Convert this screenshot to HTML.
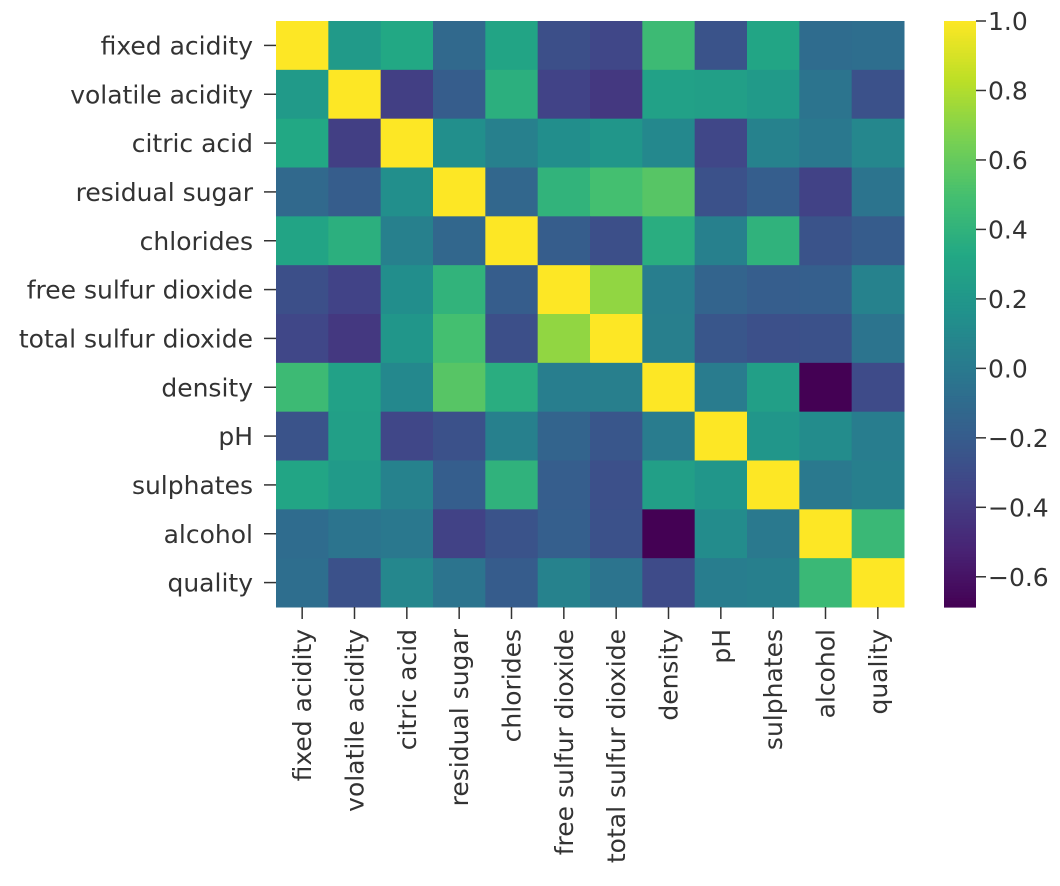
<!DOCTYPE html>
<html><head><meta charset="utf-8"><style>
html,body{margin:0;padding:0;background:#fff;}
svg text{font-family:"DejaVu Sans","Liberation Sans",sans-serif;font-size:25px;fill:#333;}
</style></head><body>
<svg id="chart" width="1060" height="881" xmlns="http://www.w3.org/2000/svg"></svg>
<script>
const labels = ["fixed acidity","volatile acidity","citric acid","residual sugar","chlorides","free sulfur dioxide","total sulfur dioxide","density","pH","sulphates","alcohol","quality"];
const row0 = [1,0.219,0.324,-0.112,0.298,-0.283,-0.329,0.459,-0.253,0.300,-0.095,-0.077];
const row1 = [0.219,1,-0.378,-0.196,0.377,-0.353,-0.414,0.271,0.261,0.226,-0.038,-0.266];
const row2 = [0.324,-0.378,1,0.142,0.039,0.133,0.195,0.096,-0.330,0.056,-0.010,0.086];
const row3 = [-0.112,-0.196,0.142,1,-0.129,0.403,0.495,0.553,-0.267,-0.186,-0.359,-0.037];
const row4 = [0.298,0.377,0.039,-0.129,1,-0.195,-0.280,0.363,0.045,0.396,-0.257,-0.201];
const row5 = [-0.283,-0.353,0.133,0.403,-0.195,1,0.721,0.026,-0.146,-0.188,-0.180,0.055];
const row6 = [-0.329,-0.414,0.195,0.495,-0.280,0.721,1,0.032,-0.238,-0.276,-0.266,-0.041];
const row7 = [0.459,0.271,0.096,0.553,0.363,0.026,0.032,1,0.012,0.259,-0.687,-0.306];
const row8 = [-0.253,0.261,-0.330,-0.267,0.045,-0.146,-0.238,0.012,1,0.192,0.121,0.020];
const row9 = [0.300,0.226,0.056,-0.186,0.396,-0.188,-0.276,0.259,0.192,1,-0.003,0.038];
const row10 = [-0.095,-0.038,-0.010,-0.359,-0.257,-0.180,-0.266,-0.687,0.121,-0.003,1,0.444];
const row11 = [-0.077,-0.266,0.086,-0.037,-0.201,0.055,-0.041,-0.306,0.020,0.038,0.444,1];
const matrix = [row0,row1,row2,row3,row4,row5,row6,row7,row8,row9,row10,row11];
const cbTicks = [1.0,0.8,0.6,0.4,0.2,0.0,-0.2,-0.4,-0.6];
const cbTickLabels = ["1.0","0.8","0.6","0.4","0.2","0.0","\u22120.2","\u22120.4","\u22120.6"];
const vmin = -0.687, vmax = 1;

const NS="http://www.w3.org/2000/svg";
const svg=document.getElementById('chart');
const X0=276,X1=904,Y0=21,Y1=607;
const n=labels.length, cw=(X1-X0)/n, ch=(Y1-Y0)/n;
const stops=["#440154","#482475","#414487","#355f8d","#2a788e","#21918c","#22a884","#44bf70","#7ad151","#bddf26","#fde725"];
function hex(h){return [1,3,5].map(i=>parseInt(h.substr(i,2),16));}
function viridis(t){t=Math.max(0,Math.min(1,t));const p=t*10,i=Math.min(9,Math.floor(p)),f=p-i;const a=hex(stops[i]),b=hex(stops[i+1]);return "rgb("+a.map((v,k)=>Math.round(v+(b[k]-v)*f)).join(",")+")";}
function colorOf(v){return viridis((v-vmin)/(vmax-vmin));}
function el(tag,attrs){const e=document.createElementNS(NS,tag);for(const k in attrs)e.setAttribute(k,attrs[k]);svg.appendChild(e);return e;}
function xPos(j){return X0+j*cw;}
function yPos(i){return Y0+i*ch;}
function cbY(v){return Y0+(vmax-v)/(vmax-vmin)*(Y1-Y0);}

matrix.forEach((row,i)=>row.forEach((v,j)=>{
  const r=el('rect',{x:xPos(j),y:yPos(i),width:cw+0.5,height:ch+0.5,fill:colorOf(v)});
  
  
}));
labels.forEach((lab,i)=>{
  const yc=yPos(i)+ch/2;
  const tk=el('line',{x1:X0-12,x2:X0,y1:yc,y2:yc,stroke:'#333','stroke-width':1.5});
  
  
  const t=el('text',{x:X0-23,y:yc+9,'text-anchor':'end'});
  t.textContent=lab;
  
  
  const xc=xPos(i)+cw/2;
  const tk2=el('line',{x1:xc,x2:xc,y1:Y1,y2:Y1+12,stroke:'#333','stroke-width':1.5});
  
  
  const t2=el('text',{x:0,y:0,'text-anchor':'end',transform:`translate(${xc+9},${Y1+22}) rotate(-90)`});
  t2.textContent=lab;
  
  
});
const CX0=944,CX1=976,N=200;
for(let k=0;k<N;k++){
  const v0=vmax-(vmax-vmin)*k/N, v1=vmax-(vmax-vmin)*(k+1)/N;
  const r=el('rect',{x:CX0,y:cbY(v0),width:CX1-CX0,height:cbY(v1)-cbY(v0)+0.6,fill:colorOf((v0+v1)/2)});
  
  
}
cbTicks.forEach((v,k)=>{
  const y=cbY(v);
  const tk=el('line',{x1:CX1,x2:CX1+10,y1:y,y2:y,stroke:'#333','stroke-width':1.5});
  
  
  const t=el('text',{x:CX1+12,y:y+9});
  t.textContent=cbTickLabels[k];
  
  
});
</script>
</body></html>
